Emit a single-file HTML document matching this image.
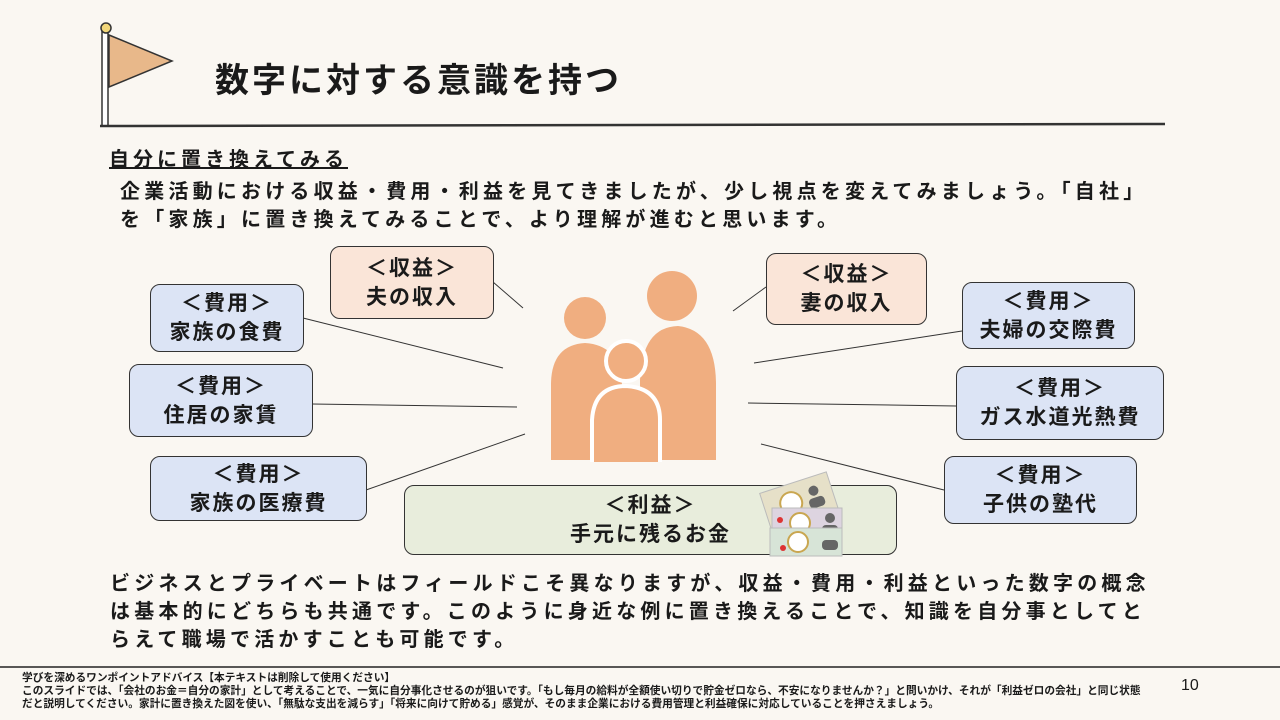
<!DOCTYPE html>
<html><head><meta charset="utf-8"><style>
*{margin:0;padding:0;box-sizing:border-box}
body{width:1280px;height:720px;background:#faf7f2;position:relative;overflow:hidden;font-family:"Liberation Sans","Noto Sans CJK JP",sans-serif;color:#1a1a1a}
.a{position:absolute;white-space:nowrap}
.box{position:absolute;border:1.5px solid #333;border-radius:10px;display:flex;flex-direction:column;align-items:center;justify-content:center;font-weight:bold;font-size:21px;line-height:29px;letter-spacing:2px}
.o{background:#fae5d8}.b{background:#dce4f5}.g{background:#e8eddc}
.t{font-weight:bold;font-size:20px;letter-spacing:4.2px}
</style></head><body>
<svg class="a" style="left:0;top:0" width="1280" height="720">
<rect x="102" y="30" width="6" height="96" fill="#fff" stroke="#333" stroke-width="1.5"/>
<circle cx="106" cy="28" r="5" fill="#f2d77a" stroke="#333" stroke-width="1.5"/>
<polygon points="109,35 172,61 109,87" fill="#e8b88a" stroke="#333" stroke-width="1.5"/>
<path d="M100 126 L1165 124" stroke="#333" stroke-width="2.5"/>
<g stroke="#333" stroke-width="1">
<line x1="493" y1="282" x2="523" y2="308"/><line x1="303" y1="318" x2="503" y2="368"/>
<line x1="312" y1="404" x2="517" y2="407"/><line x1="366" y1="490" x2="525" y2="434"/>
<line x1="733" y1="311" x2="766" y2="287"/><line x1="754" y1="363" x2="962" y2="331"/>
<line x1="748" y1="403" x2="956" y2="406"/><line x1="761" y1="444" x2="944" y2="490"/>
</g>
<g fill="#f0ae80">
<circle cx="585" cy="318" r="21"/>
<path d="M551 460 L551 385 Q551 345 585 343 Q620 345 622 385 L622 460Z"/>
<circle cx="672" cy="296" r="25"/>
<path d="M640 460 L640 380 Q642 327 678 326 Q716 330 716 385 L716 460Z"/>
</g>
<circle cx="626" cy="361" r="20" fill="#f0ae80" stroke="#fff" stroke-width="4"/>
<path d="M592 462 L592 420 Q594 386 626 386 Q660 388 660 420 L660 462" fill="#f0ae80" stroke="#fff" stroke-width="4"/>
<line x1="0" y1="667" x2="1280" y2="667" stroke="#222" stroke-width="1.5"/>
</svg>
<div class="a" style="left:215px;top:53px;font-size:34px;font-weight:bold;letter-spacing:3px">数字に対する意識を持つ</div>
<div class="a" style="left:109px;top:143px;font-size:20px;font-weight:bold;text-decoration:underline;letter-spacing:4px">自分に置き換えてみる</div>
<div class="a t" style="left:120px;top:175px">企業活動における収益・費用・利益を見てきましたが、少し視点を変えてみましょう。「自社」</div>
<div class="a t" style="left:120px;top:203px">を「家族」に置き換えてみることで、より理解が進むと思います。</div>
<div class="box o" style="left:330px;top:246px;width:164px;height:73px"><div>＜収益＞</div><div>夫の収入</div></div>
<div class="box b" style="left:150px;top:284px;width:154px;height:68px"><div>＜費用＞</div><div>家族の食費</div></div>
<div class="box b" style="left:129px;top:364px;width:184px;height:73px"><div>＜費用＞</div><div>住居の家賃</div></div>
<div class="box b" style="left:150px;top:456px;width:217px;height:65px"><div>＜費用＞</div><div>家族の医療費</div></div>
<div class="box o" style="left:766px;top:253px;width:161px;height:72px"><div>＜収益＞</div><div>妻の収入</div></div>
<div class="box b" style="left:962px;top:282px;width:173px;height:67px"><div>＜費用＞</div><div>夫婦の交際費</div></div>
<div class="box b" style="left:956px;top:366px;width:208px;height:74px"><div>＜費用＞</div><div>ガス水道光熱費</div></div>
<div class="box b" style="left:944px;top:456px;width:193px;height:68px"><div>＜費用＞</div><div>子供の塾代</div></div>
<div class="box g" style="left:404px;top:485px;width:493px;height:70px"><div>＜利益＞</div><div>手元に残るお金</div></div>
<svg class="a" style="left:750px;top:468px" width="100" height="92">
<g transform="rotate(-18 50 46)">
<rect x="18" y="14" width="70" height="38" fill="#e6e0c8" stroke="#bbb"/>
<circle cx="45" cy="33" r="11" fill="#fff" stroke="#c9a650" stroke-width="2"/><circle cx="70" cy="28" r="5" fill="#666"/><rect x="62" y="35" width="16" height="10" rx="4" fill="#666"/>
</g>
<rect x="22" y="40" width="70" height="30" fill="#ddd4e0" stroke="#bbb"/>
<circle cx="50" cy="55" r="10" fill="#fff" stroke="#c9a650" stroke-width="2"/><circle cx="80" cy="50" r="5" fill="#666"/><rect x="72" y="57" width="16" height="8" rx="4" fill="#666"/>
<rect x="20" y="60" width="72" height="28" fill="#d7e4d7" stroke="#bbb"/>
<circle cx="48" cy="74" r="10" fill="#fff" stroke="#c9a650" stroke-width="2"/><rect x="72" y="72" width="16" height="10" rx="4" fill="#666"/>
<circle cx="30" cy="52" r="3" fill="#d33"/><circle cx="33" cy="80" r="3" fill="#d33"/>
</svg>
<div class="a t" style="left:110px;top:567px">ビジネスとプライベートはフィールドこそ異なりますが、収益・費用・利益といった数字の概念</div>
<div class="a t" style="left:110px;top:595px">は基本的にどちらも共通です。このように身近な例に置き換えることで、知識を自分事としてと</div>
<div class="a t" style="left:110px;top:623px">らえて職場で活かすことも可能です。</div>
<div class="a" style="left:22px;top:672px;font-size:10.7px;line-height:13px;font-weight:bold">学びを深めるワンポイントアドバイス【本テキストは削除して使用ください】<br>このスライドでは、「会社のお金＝自分の家計」として考えることで、一気に自分事化させるのが狙いです。「もし毎月の給料が全額使い切りで貯金ゼロなら、不安になりませんか？」と問いかけ、それが「利益ゼロの会社」と同じ状態<br>だと説明してください。家計に置き換えた図を使い、「無駄な支出を減らす」「将来に向けて貯める」感覚が、そのまま企業における費用管理と利益確保に対応していることを押さえましょう。</div>
<div class="a" style="left:1181px;top:677px;font-size:16px">10</div>
</body></html>
